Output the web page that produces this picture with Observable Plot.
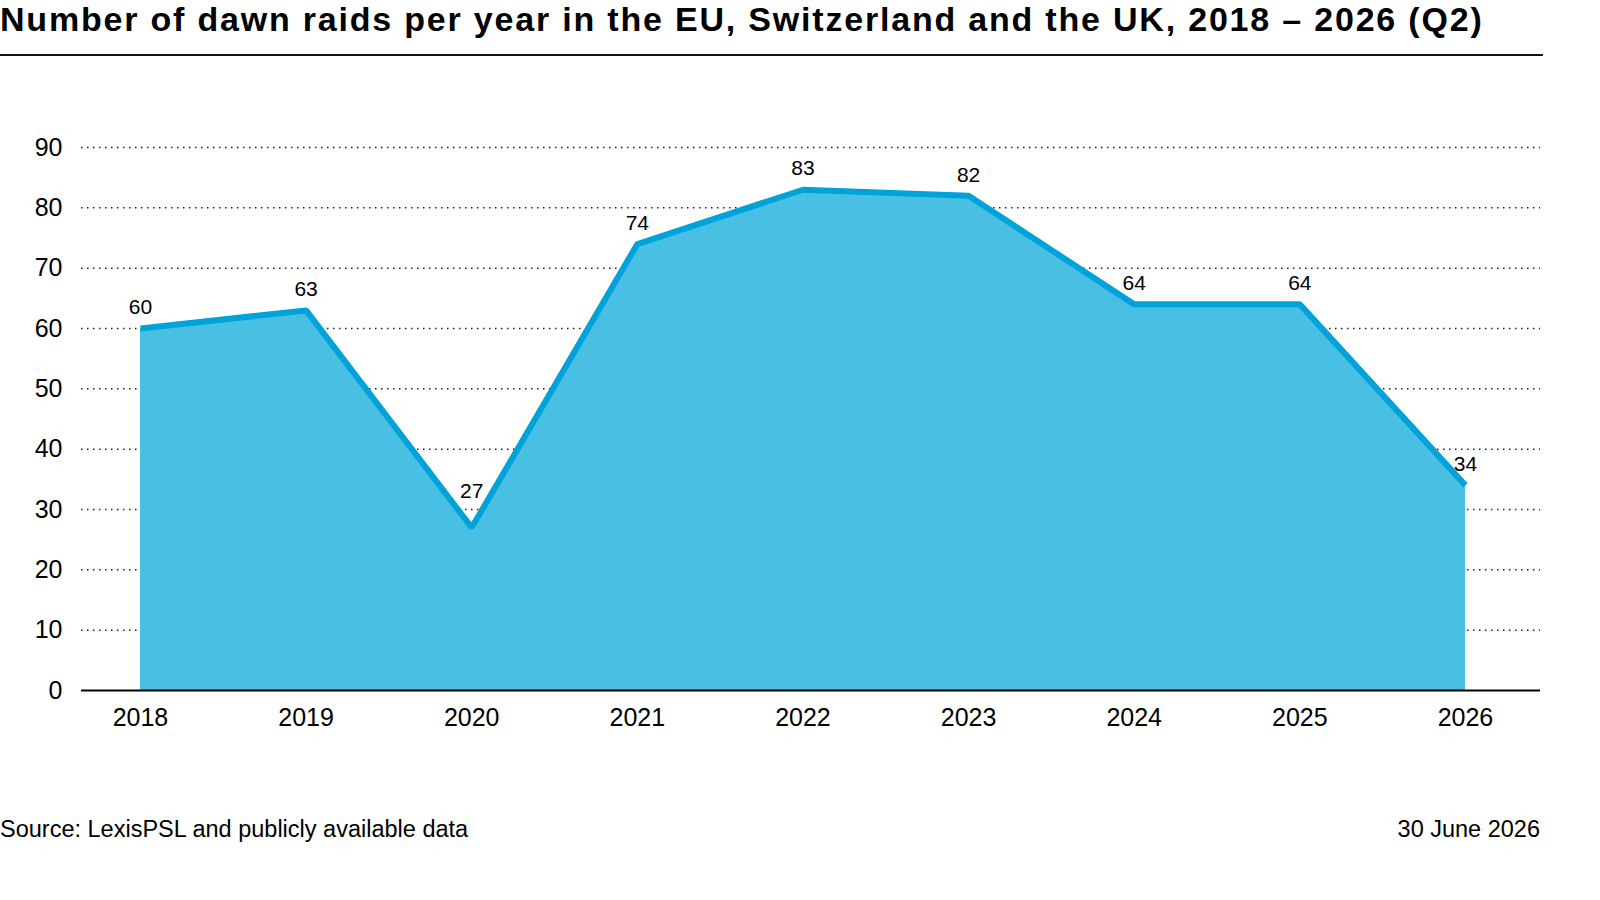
<!DOCTYPE html>
<html>
<head>
<meta charset="utf-8">
<script src="https://cdn.jsdelivr.net/npm/d3@7"></script>
<script src="https://cdn.jsdelivr.net/npm/@observablehq/plot@0.6"></script>
<style>
  html, body { margin: 0; padding: 0; background: #fff; }
  body { width: 1600px; height: 900px; position: relative; font-family: "Liberation Sans", Arial, sans-serif; color: #000; overflow: hidden; }
  #title { position: absolute; left: 0; top: 0px; font-size: 34px; line-height: 38px; font-weight: bold; letter-spacing: 1.8px; white-space: nowrap; }
  #rule { position: absolute; left: 0; top: 54px; width: 1543px; height: 2px; background: #111; }
  #chart { position: absolute; left: 0; top: 60px; }
  #source { position: absolute; left: 0; top: 818px; font-size: 23.5px; line-height: 23px; white-space: nowrap; }
  #date { position: absolute; left: 0; width: 1540px; text-align: right; top: 818px; font-size: 23.5px; line-height: 23px; white-space: nowrap; }
</style>
</head>
<body>
<div id="title">Number of dawn raids per year in the EU, Switzerland and the UK, 2018 – 2026 (Q2)</div>
<div id="rule"></div>
<div id="chart"></div>
<div id="source">Source: LexisPSL and publicly available data</div>
<div id="date">30 June 2026</div>
<script>
const years = [2018, 2019, 2020, 2021, 2022, 2023, 2024, 2025, 2026];
const raids = [60, 63, 27, 74, 83, 82, 64, 64, 34];
const yTicks = [0, 10, 20, 30, 40, 50, 60, 70, 80, 90];

const data = years.map((y, i) => ({year: y, value: raids[i]}));
// a local minimum gets its label lifted a little more to clear the line
const isDip = (d, i) => i > 0 && i < raids.length - 1 && raids[i] < raids[i - 1] && raids[i] < raids[i + 1];
const normal = data.filter((d, i) => !isDip(d, i));
const dips = data.filter((d, i) => isDip(d, i));

const chart = Plot.plot({
  width: 1600,
  height: 700,
  marginLeft: 81,
  marginRight: 60,
  marginTop: 87,
  marginBottom: 70,
  style: {fontFamily: "'Liberation Sans', Arial, sans-serif", fontSize: "25px", color: "#000", background: "#fff", overflow: "visible"},
  x: {domain: [2017.644, 2026.453], ticks: years, tickFormat: d => String(d), tickSize: 0, tickPadding: 18, label: null},
  y: {domain: [0, 90], ticks: yTicks, tickSize: 0, tickPadding: 19, label: null},
  marks: [
    Plot.gridY(yTicks.filter(t => t > 0), {stroke: "#222", strokeOpacity: 1, strokeWidth: 1.5, strokeDasharray: "1.5,4.5"}),
    Plot.areaY(data, {x: "year", y: "value", fill: "#49BFE3"}),
    Plot.lineY(data, {x: "year", y: "value", stroke: "#00A3D9", strokeWidth: 6, strokeLinejoin: "miter", strokeLinecap: "butt"}),
    Plot.ruleY([0], {stroke: "#000", strokeWidth: 2}),
    Plot.text(normal, {x: "year", y: "value", text: d => String(d.value), dy: -21, fontSize: 21, fill: "#000"}),
    Plot.text(dips, {x: "year", y: "value", text: d => String(d.value), dy: -36, fontSize: 21, fill: "#000"})
  ]
});
document.getElementById("chart").appendChild(chart);
</script>
</body>
</html>
